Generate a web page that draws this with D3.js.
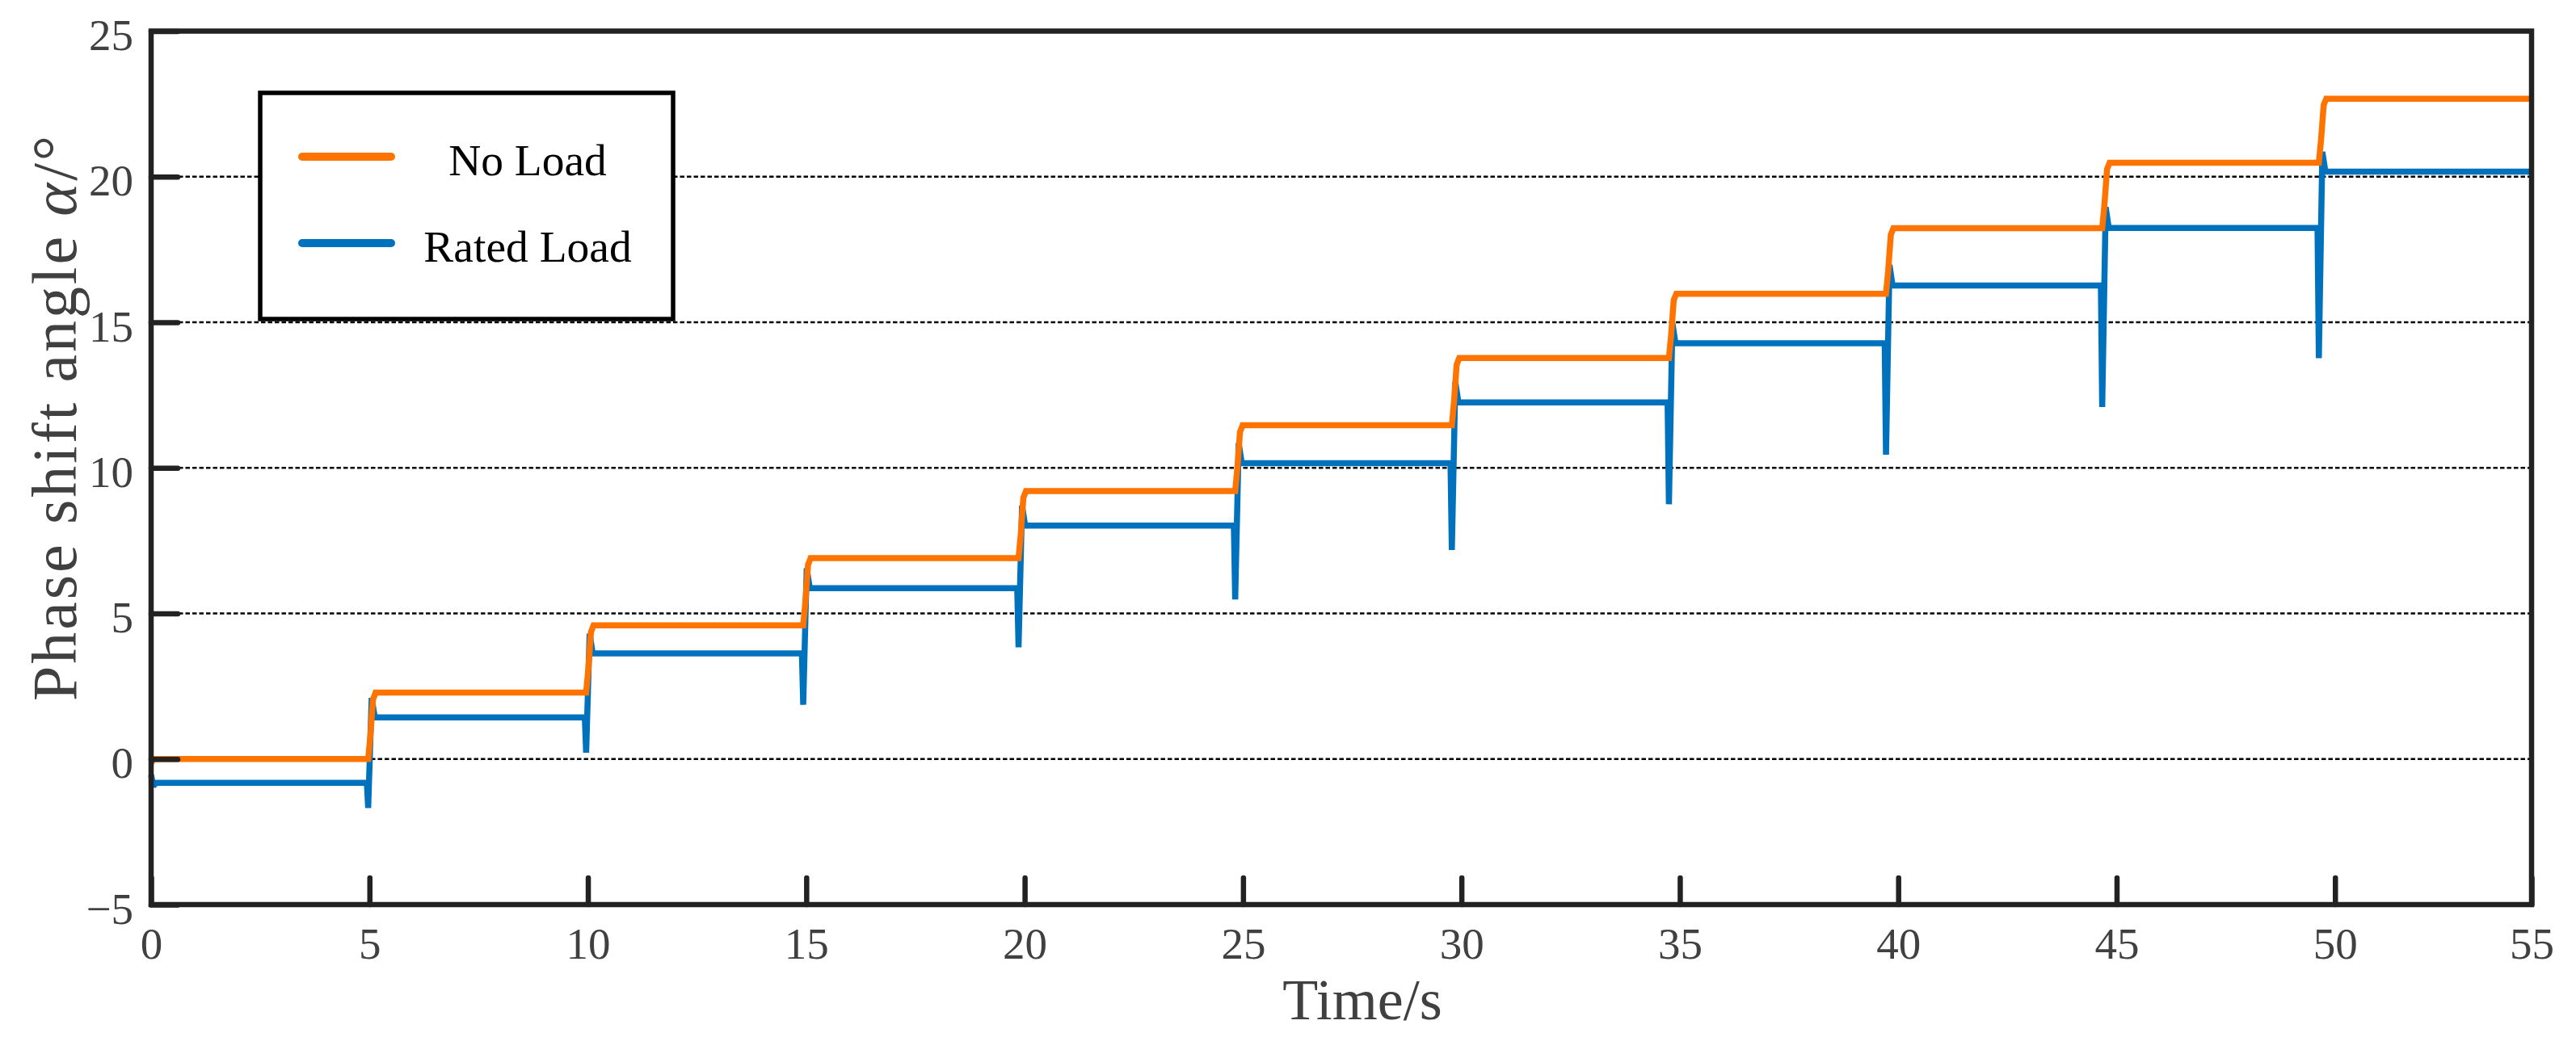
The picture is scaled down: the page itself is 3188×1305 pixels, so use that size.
<!DOCTYPE html>
<html>
<head>
<meta charset="utf-8">
<script src="https://cdn.jsdelivr.net/npm/d3@7"></script>
<style>
  html, body { margin: 0; padding: 0; background: #fff; }
  svg { display: block; }
</style>
</head>
<body>
<svg id="chart" width="3188" height="1305"></svg>
<script>
// ---------------- data ----------------
const xMax = 54.5;                       // right end of the time axis
const xTickValues = [0, 5, 10, 15, 20, 25, 30, 35, 40, 45, 50, 55];
const xTickLabels = ["0", "5", "10", "15", "20", "25", "30", "35", "40", "45", "50", "55"];
const yTickValues = [-5, 0, 5, 10, 15, 20, 25];
const yTickLabels = ["\u22125", "0", "5", "10", "15", "20", "25"];
const yGridValues = [0, 5, 10, 15, 20];

// step instants (s)
const stepTimes = [4.97, 9.96, 14.93, 19.86, 24.82, 29.78, 34.75, 39.72, 44.67, 49.63];
// No Load: steady levels (deg)
const noLoadLevels = [0, 2.28, 4.59, 6.9, 9.2, 11.46, 13.77, 15.98, 18.23, 20.48, 22.68];
// Rated Load: steady levels, dips and overshoots at each step (deg)
const ratedLevels = [-0.82, 1.43, 3.63, 5.87, 8.02, 10.16, 12.25, 14.28, 16.26, 18.24, 20.17];
const ratedDips   = [-1.68, 0.22, 1.86, 3.84, 5.48, 7.18, 8.75, 10.45, 12.09, 13.77];
const ratedPeaks  = [2.1, 4.3, 6.55, 8.7, 10.85, 12.95, 14.97, 16.97, 18.95, 20.85];
// start-up transients
const noLoadStart = [-0.14, 0];
const ratedStart  = [-0.55, -0.92];

const seriesNames = ["No Load", "Rated Load"];
const seriesColors = ["#ff7300", "#0072bd"];

// ---------------- build series ----------------
function buildNoLoad() {
  const pts = [[0, noLoadStart[0]], [0.06, noLoadStart[1]]];
  stepTimes.forEach((t, i) => {
    const a = noLoadLevels[i], b = noLoadLevels[i + 1];
    pts.push([t, a]);
    pts.push([t + 0.05, a + 0.35 * (b - a)]);
    pts.push([t + 0.11, a + 0.9 * (b - a)]);
    pts.push([t + 0.17, b]);
  });
  pts.push([xMax, noLoadLevels[noLoadLevels.length - 1]]);
  return pts;
}
function buildRated() {
  const pts = [[0, ratedStart[0]], [0.05, ratedStart[1]], [0.12, ratedLevels[0]]];
  stepTimes.forEach((t, i) => {
    pts.push([t - 0.03, ratedLevels[i]]);
    pts.push([t, ratedDips[i]]);
    pts.push([t + 0.08, ratedPeaks[i]]);
    pts.push([t + 0.15, ratedLevels[i + 1]]);
  });
  pts.push([xMax, ratedLevels[ratedLevels.length - 1]]);
  return pts;
}
const series = [buildNoLoad(), buildRated()];

// ---------------- layout ----------------
const svg = d3.select("#chart");
const L = 187, R = 3133, T = 38.5, B = 1120;
const x = d3.scaleLinear().domain([0, xMax]).range([L, R]);
const y = d3.scaleLinear().domain([-5, 25]).range([B, T]);
const font = "'Liberation Serif', 'Times New Roman', Times, serif";

svg.append("rect").attr("width", 3188).attr("height", 1305).attr("fill", "#fff");

// grid
svg.append("g").selectAll("line").data(yGridValues).join("line")
  .attr("x1", x(0)).attr("x2", x(xMax))
  .attr("y1", d => y(d)).attr("y2", d => y(d))
  .attr("stroke", "#000").attr("stroke-width", 2.6)
  .attr("stroke-dasharray", "5.5,3");

// lines
const line = d3.line().x(d => x(d[0])).y(d => y(d[1]));
[1, 0].forEach(i => {
  svg.append("path").datum(series[i])
    .attr("d", line)
    .attr("fill", "none")
    .attr("stroke", seriesColors[i])
    .attr("stroke-width", 7.5)
    .attr("stroke-linejoin", "miter")
    .attr("stroke-miterlimit", 2);
});

// axes
const xAxis = d3.axisBottom(x)
  .tickValues(xTickValues.map(v => Math.min(v, xMax)))
  .tickFormat((d, i) => xTickLabels[i])
  .tickSizeInner(-33).tickSizeOuter(0).tickPadding(28);
const gx = svg.append("g").attr("transform", `translate(0,${B})`).call(xAxis);

const yAxis = d3.axisLeft(y)
  .tickValues(yTickValues)
  .tickFormat((d, i) => yTickLabels[i])
  .tickSizeInner(-33).tickSizeOuter(0).tickPadding(22);
const gy = svg.append("g").attr("transform", `translate(${L},0)`).call(yAxis);

[gx, gy].forEach(g => {
  g.select(".domain").remove();
  g.selectAll(".tick line").attr("stroke", "#222").attr("stroke-width", 6.5).attr("stroke-linecap", "round");
  g.selectAll(".tick text").attr("fill", "#404040").attr("font-family", font).attr("font-size", 55);
});
gx.selectAll(".tick text").attr("dy", "0.71em");
gy.selectAll(".tick text").attr("dy", "0.42em");

// frame
svg.append("rect")
  .attr("x", L).attr("y", T).attr("width", R - L).attr("height", B - T)
  .attr("fill", "none").attr("stroke", "#222").attr("stroke-width", 6.5);

// axis labels
svg.append("text")
  .attr("x", 1686).attr("y", 1262)
  .attr("text-anchor", "middle")
  .attr("font-family", font).attr("font-size", 72).attr("fill", "#404040")
  .text("Time/s");

const yl = svg.append("text")
  .attr("transform", "translate(94,518) rotate(-90)")
  .attr("text-anchor", "middle")
  .attr("textLength", 700).attr("lengthAdjust", "spacing")
  .attr("font-family", font).attr("font-size", 78).attr("fill", "#404040");
yl.append("tspan").text("Phase shift angle ");
yl.append("tspan").attr("font-style", "italic").text("\u03b1");
yl.append("tspan").text("/\u00b0");

// legend
const lg = svg.append("g");
lg.append("rect")
  .attr("x", 322).attr("y", 115).attr("width", 833 - 322).attr("height", 395 - 115)
  .attr("fill", "#fff").attr("stroke", "#000").attr("stroke-width", 5.5);
const legendRows = [194, 301];
seriesNames.forEach((name, i) => {
  lg.append("line")
    .attr("x1", 374).attr("x2", 484).attr("y1", legendRows[i]).attr("y2", legendRows[i])
    .attr("stroke", seriesColors[i]).attr("stroke-width", 10).attr("stroke-linecap", "round");
  lg.append("text")
    .attr("x", 653).attr("y", legendRows[i] + 23)
    .attr("text-anchor", "middle")
    .attr("font-family", font).attr("font-size", 55.5).attr("fill", "#000")
    .text(name);
});
</script>
</body>
</html>
